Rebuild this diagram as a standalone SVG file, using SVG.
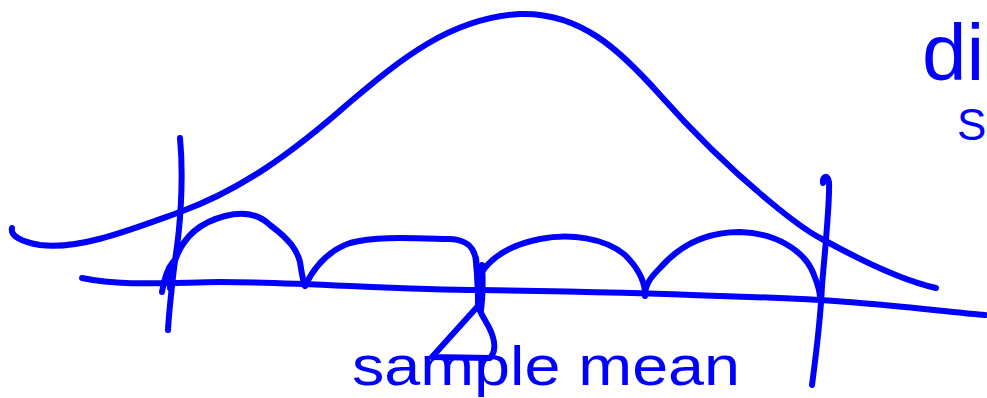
<svg xmlns="http://www.w3.org/2000/svg" width="987" height="398" viewBox="0 0 987 398">
<style>
.s{fill:none;stroke:#0000ff;stroke-width:6;stroke-linecap:round;stroke-linejoin:round}
.t{fill:#0000ff;font-family:"Liberation Sans",Arial,sans-serif}
</style>
<rect width="987" height="398" fill="#ffffff"/>
<g id="bell-curve">
<path class="s" d="M12,228 C10,236 22,242 40,245 C80,250 130,230 180,212 C240,190 290,155 350,102 C400,60 450,18 520,14 C580,12 620,50 660,95 C700,140 740,178 780,210 C800,226 812,234 822,239 C860,260 900,280 936,288"/>
</g>
<g id="axis">
<path class="s" d="M82,278 C120,286 160,283 220,282 C300,282 400,290 480,290 C560,291 650,293 720,296 C800,298 820,300 860,303 C920,308 960,313 985,315"/>
</g>
<g id="bounds">
<path class="s" d="M180,138 C184,180 180,230 175,260 C172,285 169,310 168,330"/>
<path class="s" d="M162,292 C164,280 168,268 173,262"/>
<path class="s" d="M823,183 C822,176 828,174 829,182 C830,200 826,240 822,285 C821,310 818,340 812,385"/>
</g>
<g id="sample-arcs">
<path class="s" d="M170,288 C172,250 190,225 225,216 C245,211 260,215 270,225 C290,240 297,250 300,262 C302,275 303,282 305,286"/>
<path class="s" d="M305,286 C315,265 330,250 350,243 C375,236 410,238 450,239 C468,240 475,248 476,262 C477,275 478,285 478,292"/>
<path class="s" d="M480,275 C490,258 510,245 540,239 C570,233 605,238 625,255 C638,268 644,280 645,292"/>
<path class="s" d="M645,296 C645,285 650,278 660,268 C680,245 705,232 740,232 C775,233 805,250 814,275 C818,285 820,292 820,298"/>
</g>
<g id="mean-pointer">
<path class="s" d="M476,258 C478,275 478,290 478,306 L432,357 L490,358 C498,350 494,335 486,322 C482,315 479,310 478,306"/>
<path class="s" d="M482,265 C483,280 483,295 481,310"/>
</g>
<g id="labels">
<text class="t" x="352" y="385" font-size="56" textLength="388" lengthAdjust="spacingAndGlyphs">sample mean</text>
<text class="t" x="922" y="80" font-size="80">di</text>
<text class="t" x="957" y="140" font-size="44">S</text>
</g>
</svg>
